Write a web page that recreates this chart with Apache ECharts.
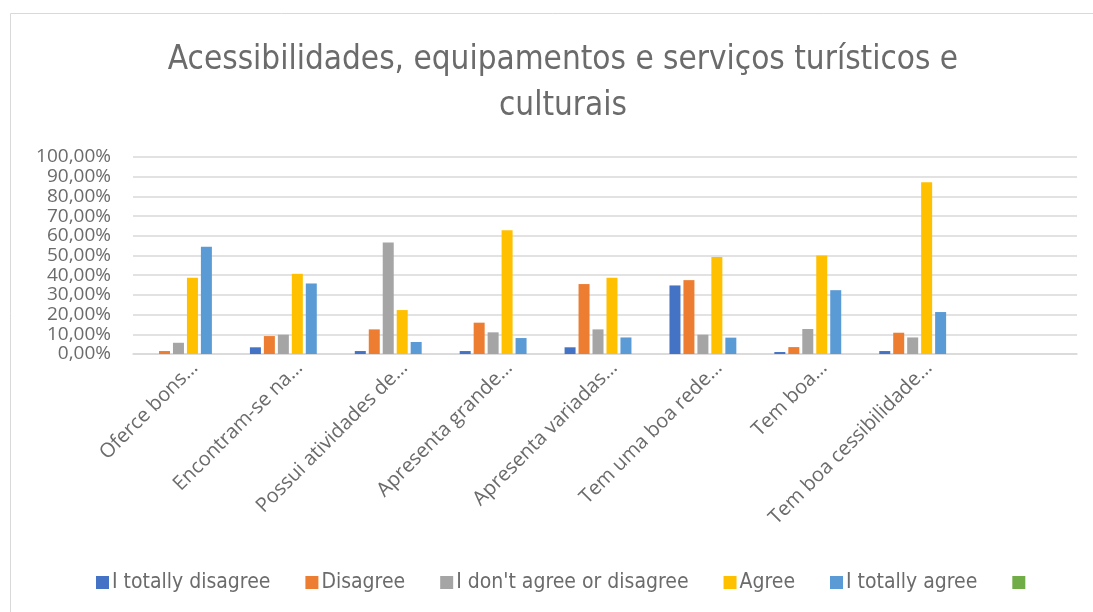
<!DOCTYPE html>
<html>
<head>
<meta charset="utf-8">
<script src="https://cdn.jsdelivr.net/npm/echarts@6/dist/echarts.min.js"></script>
<style>
  html, body { margin: 0; padding: 0; background: #fff; }
  #chart { width: 1093px; height: 612px; }
</style>
</head>
<body>
<div id="chart"></div>
<script>
// Statements about the destination (Excel-truncated labels); last slot is empty
const categories = [
  'Oferce bons…',
  'Encontram-se na…',
  'Possui atividades de…',
  'Apresenta grande…',
  'Apresenta variadas…',
  'Tem uma boa rede…',
  'Tem boa…',
  'Tem boa cessibilidade…',
  ''
];

// Share of answers per statement (%)
const totallyDisagree = [0,    3.4,  1.5, 1.5,  3.4, 34.8, 1.0, 1.5, null];
const disagree        = [1.5,  9.1, 12.5, 15.9, 35.5, 37.5, 3.5, 10.8, null];
const neutral         = [5.7,  9.8, 56.6, 11.0, 12.5, 9.8, 12.7, 8.4, null];
const agree           = [38.7, 40.7, 22.3, 62.8, 38.7, 49.2, 50.0, 87.2, null];
const totallyAgree    = [54.4, 35.8, 6.1,  8.1,  8.4,  8.3, 32.4, 21.3, null];
const unnamed         = [null, null, null, null, null, null, null, null, null];

const seriesNames = ['I totally disagree', 'Disagree', "I don't agree or disagree", 'Agree', 'I totally agree', ' '];
const seriesData = [totallyDisagree, disagree, neutral, agree, totallyAgree, unnamed];
const colors = ['#4472C4', '#ED7D31', '#A5A5A5', '#FFC000', '#5B9BD5', '#70AD47'];

const yTicks = [0, 10, 20, 30, 40, 50, 60, 70, 80, 90, 100];

const narrow = "'Liberation Sans Narrow', 'DejaVu Sans Condensed', 'Open Sans', sans-serif";
const textFont = "'Open Sans', 'Noto Sans', sans-serif";

const chart = echarts.init(document.getElementById('chart'));
chart.setOption({
  animation: false,
  color: colors,
  graphic: [{
    type: 'rect',
    shape: { x: 10.5, y: 13.5, width: 1100, height: 620 },
    style: { fill: 'none', stroke: '#d9d9d9', lineWidth: 1 },
    silent: true
  }],
  title: {
    text: 'Acessibilidades, equipamentos e serviços turísticos e\nculturais',
    left: 558,
    textAlign: 'center',
    top: 32,
    textStyle: {
      fontFamily: narrow,
      fontWeight: 'normal',
      fontSize: 33,
      lineHeight: 46,
      color: '#6b6b6b'
    }
  },
  legend: {
    bottom: 14,
    left: 91,
    itemWidth: 13,
    itemHeight: 13,
    itemGap: 35,
    icon: 'rect',
    data: seriesNames,
    textStyle: { fontFamily: narrow, fontSize: 21, color: '#6b6b6b', padding: [0, 0, 0, -2] }
  },
  grid: { left: 133, right: 16, top: 157, bottom: 258 },
  xAxis: {
    type: 'category',
    data: categories,
    axisLine: { lineStyle: { color: '#d9d9d9', width: 1.5 } },
    axisTick: { show: false },
    axisLabel: {
      interval: 0,
      rotate: 45,
      margin: 20,
      padding: [0, -13, 0, 0],
      fontFamily: textFont,
      fontSize: 20,
      color: '#6b6b6b'
    }
  },
  yAxis: {
    type: 'value',
    min: yTicks[0],
    max: yTicks[yTicks.length - 1],
    interval: 10,
    axisLine: { show: false },
    axisTick: { show: false },
    splitLine: { lineStyle: { color: '#d9d9d9', width: 1.5 } },
    axisLabel: {
      margin: 22,
      fontFamily: textFont,
      fontSize: 19,
      color: '#6b6b6b',
      formatter: v => v.toFixed(2).replace('.', ',') + '%'
    }
  },
  series: seriesNames.map((name, i) => ({
    name: name,
    type: 'bar',
    data: seriesData[i],
    barWidth: 11,
    barGap: '27%',
    itemStyle: { color: colors[i] }
  }))
});
</script>
</body>
</html>
